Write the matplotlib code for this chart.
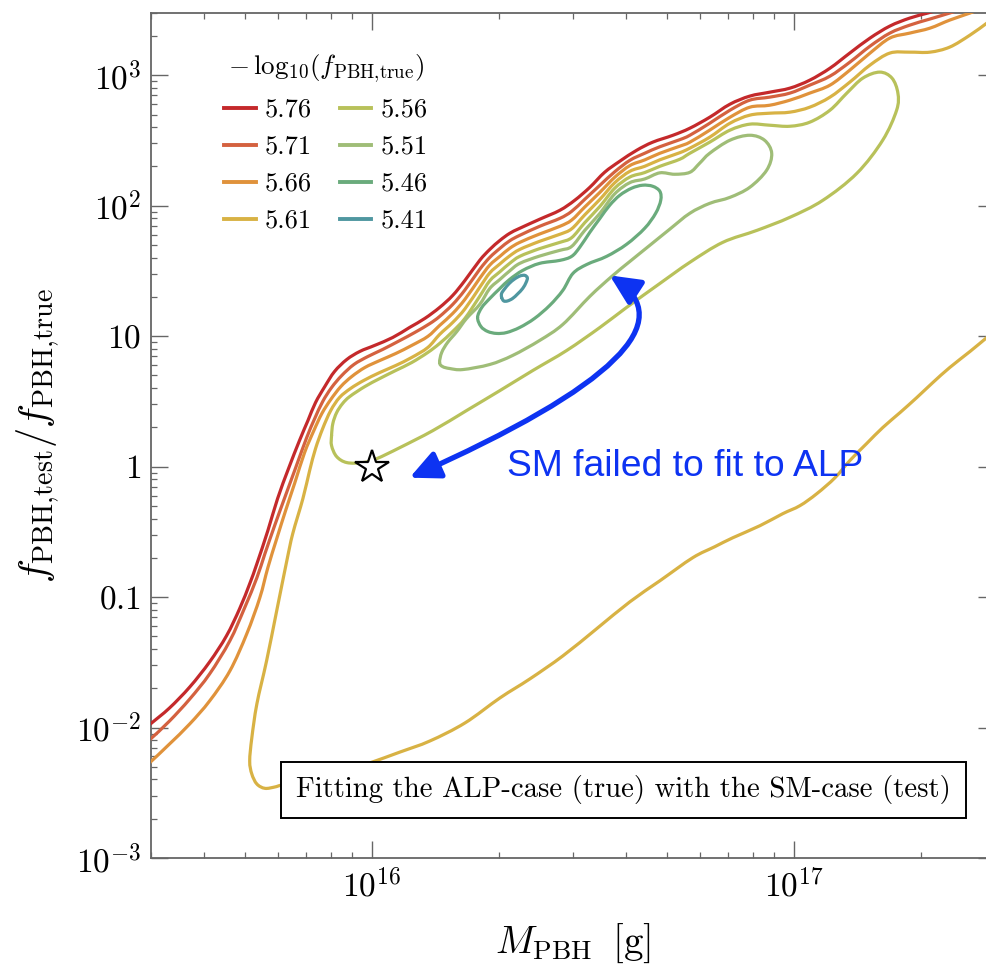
import numpy as np
import matplotlib
matplotlib.use("Agg")
import matplotlib.pyplot as plt
from matplotlib.patches import FancyArrowPatch, Rectangle, PathPatch
from matplotlib.path import Path
from matplotlib.lines import Line2D

plt.rcParams['mathtext.fontset'] = 'cm'
plt.rcParams['font.family'] = ['cmr10', 'DejaVu Serif']
plt.rcParams['axes.unicode_minus'] = False
plt.rcParams['axes.formatter.use_mathtext'] = True

# contour levels of -log10(f_PBH,true) and their colours
levels = [5.76, 5.71, 5.66, 5.61, 5.56, 5.51, 5.46, 5.41]
level_colors = ['#c4292b', '#d4613f', '#e0923b', '#d8b244',
                '#b8c15a', '#9fbd77', '#6aab7c', '#4f97a0']

# iso-lines, points given as (log10 M_PBH [g], log10 f_test/f_true)
iso_576 = [(15.462, -2.011), (15.476, -1.972), (15.521, -1.850), (15.569, -1.689), (15.616, -1.497),
           (15.656, -1.297), (15.687, -1.090), (15.711, -0.898), (15.728, -0.745), (15.754, -0.491),
           (15.777, -0.246), (15.803, -0.015), (15.829, 0.200), (15.849, 0.353), (15.867, 0.491),
           (15.889, 0.614), (15.912, 0.729), (15.941, 0.821), (15.972, 0.883), (16.007, 0.929),
           (16.050, 0.990), (16.090, 1.067), (16.126, 1.136), (16.161, 1.220), (16.192, 1.312),
           (16.221, 1.427), (16.256, 1.581), (16.280, 1.665), (16.304, 1.734), (16.327, 1.788),
           (16.351, 1.827), (16.398, 1.896), (16.446, 1.965), (16.481, 2.041), (16.517, 2.141),
           (16.552, 2.256), (16.588, 2.341), (16.628, 2.425), (16.666, 2.487), (16.714, 2.540),
           (16.754, 2.594), (16.801, 2.678), (16.849, 2.778), (16.896, 2.840), (16.943, 2.870),
           (16.991, 2.901), (17.038, 2.962), (17.086, 3.054), (17.133, 3.170), (17.181, 3.285),
           (17.228, 3.377), (17.275, 3.438), (17.318, 3.477), (17.358, 3.515)]

iso_571 = [(15.462, -2.126), (15.476, -2.088), (15.521, -1.950), (15.569, -1.781), (15.616, -1.589),
           (15.664, -1.335), (15.699, -1.082), (15.728, -0.852), (15.747, -0.668), (15.770, -0.453),
           (15.794, -0.238), (15.820, -0.008), (15.846, 0.222), (15.865, 0.368), (15.884, 0.499),
           (15.905, 0.606), (15.929, 0.698), (15.958, 0.783), (15.991, 0.844), (16.026, 0.898),
           (16.067, 0.967), (16.102, 1.028), (16.138, 1.097), (16.161, 1.151), (16.192, 1.243),
           (16.221, 1.354), (16.256, 1.512), (16.280, 1.604), (16.304, 1.673), (16.327, 1.731),
           (16.351, 1.773), (16.398, 1.842), (16.446, 1.903), (16.474, 1.957), (16.505, 2.049),
           (16.541, 2.157), (16.576, 2.260), (16.612, 2.348), (16.647, 2.402), (16.683, 2.452),
           (16.730, 2.506), (16.754, 2.540), (16.801, 2.632), (16.849, 2.732), (16.896, 2.809),
           (16.943, 2.832), (16.991, 2.863), (17.038, 2.924), (17.086, 2.993), (17.133, 3.100),
           (17.181, 3.223), (17.228, 3.323), (17.275, 3.384), (17.323, 3.431), (17.370, 3.477),
           (17.406, 3.515)]

iso_566 = [(15.462, -2.303), (15.476, -2.264), (15.521, -2.126), (15.569, -1.972), (15.616, -1.796),
           (15.664, -1.566), (15.704, -1.282), (15.735, -1.005), (15.754, -0.775), (15.775, -0.553),
           (15.796, -0.338), (15.818, -0.123), (15.841, 0.107), (15.863, 0.276), (15.882, 0.407),
           (15.903, 0.514), (15.927, 0.614), (15.953, 0.691), (15.984, 0.760), (16.019, 0.813),
           (16.057, 0.867), (16.095, 0.929), (16.133, 0.998), (16.161, 1.082), (16.192, 1.174),
           (16.221, 1.282), (16.256, 1.443), (16.280, 1.545), (16.304, 1.612), (16.327, 1.673),
           (16.351, 1.719), (16.398, 1.783), (16.446, 1.842), (16.474, 1.890), (16.505, 1.990),
           (16.541, 2.103), (16.576, 2.218), (16.612, 2.308), (16.647, 2.351), (16.683, 2.402),
           (16.730, 2.456), (16.754, 2.487), (16.801, 2.579), (16.849, 2.678), (16.896, 2.755),
           (16.943, 2.770), (16.991, 2.809), (17.038, 2.863), (17.086, 2.924), (17.133, 3.039),
           (17.181, 3.170), (17.228, 3.285), (17.275, 3.323), (17.323, 3.361), (17.370, 3.423),
           (17.418, 3.477), (17.453, 3.523)]

iso_561 = [(17.481, 1.051), (17.458, 0.990), (17.418, 0.883), (17.370, 0.760), (17.330, 0.645),
           (17.292, 0.530), (17.252, 0.414), (17.211, 0.299), (17.173, 0.177), (17.133, 0.046),
           (17.098, -0.085), (17.055, -0.207), (17.015, -0.299), (16.974, -0.361), (16.920, -0.453),
           (16.856, -0.545), (16.813, -0.614), (16.761, -0.698), (16.683, -0.875), (16.612, -1.036),
           (16.533, -1.243), (16.453, -1.451), (16.375, -1.627), (16.304, -1.773), (16.221, -1.965),
           (16.138, -2.103), (16.067, -2.188), (15.995, -2.272), (15.936, -2.334), (15.877, -2.387),
           (15.829, -2.418), (15.787, -2.441), (15.770, -2.456), (15.747, -2.466), (15.728, -2.433),
           (15.716, -2.356), (15.711, -2.257), (15.716, -2.080), (15.728, -1.819), (15.751, -1.489),
           (15.775, -1.105), (15.799, -0.721), (15.813, -0.514), (15.837, -0.246), (15.853, -0.031),
           (15.867, 0.138), (15.884, 0.292), (15.903, 0.430), (15.924, 0.530), (15.950, 0.599),
           (15.981, 0.660), (16.019, 0.721), (16.057, 0.775), (16.095, 0.837), (16.133, 0.913),
           (16.161, 1.013), (16.192, 1.105), (16.221, 1.209), (16.256, 1.374), (16.280, 1.485),
           (16.304, 1.554), (16.327, 1.615), (16.351, 1.665), (16.398, 1.727), (16.446, 1.781),
           (16.474, 1.823), (16.505, 1.930), (16.541, 2.049), (16.576, 2.176), (16.612, 2.264),
           (16.647, 2.302), (16.683, 2.352), (16.730, 2.406), (16.754, 2.441), (16.801, 2.525),
           (16.849, 2.632), (16.896, 2.694), (16.943, 2.709), (16.991, 2.717), (17.038, 2.755),
           (17.086, 2.832), (17.133, 2.947), (17.181, 3.078), (17.228, 3.170), (17.275, 3.177),
           (17.323, 3.177), (17.370, 3.216), (17.418, 3.308), (17.458, 3.400), (17.481, 3.454)]

iso_556 = [(15.905, 0.238), (15.908, 0.330), (15.917, 0.414), (15.931, 0.483), (15.948, 0.537),
           (15.984, 0.614), (16.019, 0.675), (16.057, 0.737), (16.095, 0.798), (16.133, 0.875),
           (16.161, 0.944), (16.192, 1.036), (16.221, 1.136), (16.256, 1.305), (16.280, 1.425),
           (16.304, 1.494), (16.327, 1.558), (16.351, 1.612), (16.398, 1.671), (16.446, 1.719),
           (16.474, 1.755), (16.505, 1.870), (16.541, 1.995), (16.576, 2.134), (16.612, 2.220),
           (16.647, 2.254), (16.683, 2.302), (16.730, 2.356), (16.754, 2.402), (16.801, 2.487),
           (16.849, 2.579), (16.896, 2.625), (16.943, 2.617), (16.991, 2.609), (17.038, 2.640),
           (17.086, 2.732), (17.126, 2.863), (17.164, 2.978), (17.204, 3.024), (17.233, 2.978),
           (17.247, 2.863), (17.244, 2.732), (17.211, 2.502), (17.150, 2.249), (17.069, 2.041),
           (16.991, 1.911), (16.913, 1.811), (16.832, 1.719), (16.754, 1.566), (16.683, 1.404),
           (16.604, 1.220), (16.541, 1.067), (16.462, 0.890), (16.382, 0.737), (16.304, 0.583),
           (16.225, 0.430), (16.145, 0.276), (16.067, 0.146), (16.012, 0.061), (15.979, 0.031),
           (15.941, 0.031), (15.917, 0.077), (15.905, 0.161), (15.905, 0.238)]

iso_551 = [(16.161, 0.798), (16.166, 0.875), (16.180, 0.952), (16.202, 1.036), (16.225, 1.136),
           (16.256, 1.243), (16.280, 1.366), (16.304, 1.435), (16.327, 1.500), (16.351, 1.558),
           (16.398, 1.614), (16.446, 1.658), (16.474, 1.688), (16.505, 1.811), (16.541, 1.942),
           (16.576, 2.091), (16.612, 2.177), (16.647, 2.205), (16.683, 2.252), (16.718, 2.241),
           (16.754, 2.256), (16.777, 2.325), (16.801, 2.402), (16.849, 2.502), (16.896, 2.540),
           (16.931, 2.502), (16.948, 2.402), (16.936, 2.272), (16.896, 2.141), (16.849, 2.064),
           (16.801, 2.018), (16.754, 1.942), (16.706, 1.819), (16.659, 1.696), (16.612, 1.573),
           (16.569, 1.458), (16.517, 1.305), (16.453, 1.090), (16.398, 0.967), (16.334, 0.852),
           (16.280, 0.783), (16.216, 0.744), (16.185, 0.752), (16.168, 0.767), (16.161, 0.798)]

iso_546 = [(16.251, 1.144), (16.259, 1.074), (16.275, 1.036), (16.296, 1.021), (16.320, 1.028),
           (16.351, 1.067), (16.386, 1.136), (16.422, 1.236), (16.453, 1.351), (16.477, 1.481),
           (16.510, 1.550), (16.557, 1.612), (16.604, 1.704), (16.647, 1.827), (16.673, 1.942),
           (16.685, 2.041), (16.683, 2.110), (16.666, 2.149), (16.642, 2.157), (16.616, 2.134),
           (16.588, 2.080), (16.564, 2.003), (16.541, 1.903), (16.517, 1.796), (16.493, 1.681),
           (16.474, 1.612), (16.446, 1.581), (16.398, 1.558), (16.358, 1.504), (16.327, 1.435),
           (16.304, 1.366), (16.280, 1.289), (16.261, 1.220), (16.251, 1.144)]

iso_541 = [(16.308, 1.297), (16.313, 1.270), (16.322, 1.270), (16.334, 1.289), (16.346, 1.324),
           (16.358, 1.366), (16.366, 1.412), (16.369, 1.447), (16.363, 1.466), (16.352, 1.462),
           (16.339, 1.439), (16.326, 1.404), (16.315, 1.362), (16.308, 1.328), (16.308, 1.297)]

iso_lines = [iso_576, iso_571, iso_566, iso_561, iso_556, iso_551, iso_546, iso_541]

# true benchmark point
star_M = 1.0e16
star_f = 1.0

# tick values and labels
y_ticks = [1e-3, 1e-2, 1e-1, 1, 10, 1e2, 1e3]
y_ticklabels = [r'$10^{-3}$', r'$10^{-2}$', r'$0.1$', r'$1$', r'$10$', r'$10^{2}$', r'$10^{3}$']
x_ticks = [1e16, 1e17]
x_ticklabels = [r'$10^{16}$', r'$10^{17}$']

blue = '#0d33f2'


def smooth_curve(pts):
    """Cubic Bezier path through the traced points (Catmull-Rom tangents in log space)."""
    p = np.array(pts, dtype=float)
    closed = np.allclose(p[0], p[-1])
    if closed:
        p = p[:-1]
        t = (np.roll(p, -1, axis=0) - np.roll(p, 1, axis=0)) / 2.0
        p = np.vstack([p, p[:1]])
        t = np.vstack([t, t[:1]])
    else:
        t = np.empty_like(p)
        t[1:-1] = (p[2:] - p[:-2]) / 2.0
        t[0] = p[1] - p[0]
        t[-1] = p[-1] - p[-2]
    verts = [p[0]]
    codes = [Path.MOVETO]
    for i in range(len(p) - 1):
        verts += [p[i] + t[i] / 3.0, p[i + 1] - t[i + 1] / 3.0, p[i + 1]]
        codes += [Path.CURVE4] * 3
    return Path(10 ** np.array(verts), codes)


fig = plt.figure(figsize=(9.87, 9.68), dpi=100)
ax = fig.add_axes([151 / 987, 110 / 968, 844 / 987, 845 / 968])
ax.set_xscale('log')
ax.set_yscale('log')
ax.set_xlim(3e15, 3e17)
ax.set_ylim(1e-3, 3e3)

handles = []
for lev, col, pts in zip(levels, level_colors, iso_lines):
    ax.add_patch(PathPatch(smooth_curve(pts), fill=False, ec=col, lw=2.3,
                           joinstyle='round', capstyle='round', zorder=3))
    handles.append(Line2D([], [], color=col, lw=2.8))

# benchmark star
ax.plot([star_M], [star_f], marker='*', ms=25, mfc='white', mec='black', mew=1.6,
        ls='none', zorder=8)

# curved double-headed arrow
arrow = FancyArrowPatch(posA=(10 ** 16.090, 10 ** -0.085), posB=(10 ** 16.564, 10 ** 1.466),
                        arrowstyle='<|-|>,head_length=18,head_width=8.5',
                        connectionstyle='angle3,angleA=24,angleB=-33',
                        mutation_scale=1, color=blue, lw=3.8, shrinkA=0, shrinkB=0, zorder=7)
ax.add_patch(arrow)
ax.text(10 ** 16.320, 10 ** -0.0746, 'SM failed to fit to ALP', color=blue, fontsize=26.8,
        family=['Liberation Sans', 'DejaVu Sans'], ha='left', va='baseline', zorder=7)

# framed caption
ax.add_patch(Rectangle((0.154, 0.0473), 0.8116, 0.0663, transform=ax.transAxes,
                       fc='white', ec='black', lw=1.4, zorder=5))
ax.text(0.5598, 0.0805, 'Fitting the ALP-case (true) with the SM-case (test)',
        transform=ax.transAxes, ha='center', va='center', fontsize=20.7, zorder=6)

# legend
leg = ax.legend(handles, [f'{v:.2f}' for v in levels], ncol=2,
                title=r'$-\,\mathrm{log}_{10}(f_{\rm PBH{,}true})$', frameon=False,
                fontsize=19, title_fontsize=19.5, loc='upper left',
                bbox_to_anchor=(0.0865, 0.953), borderaxespad=0, borderpad=0,
                handlelength=1.2, handletextpad=0.35, columnspacing=1.05, labelspacing=0.5)

# axes styling
ax.set_yticks(y_ticks)
ax.set_yticklabels(y_ticklabels)
ax.set_xticks(x_ticks)
ax.set_xticklabels(x_ticklabels)
ax.yaxis.set_minor_locator(matplotlib.ticker.LogLocator(base=10, subs=np.arange(2, 10)))
ax.xaxis.set_minor_locator(matplotlib.ticker.LogLocator(base=10, subs=np.arange(2, 10)))
ax.yaxis.set_minor_formatter(matplotlib.ticker.NullFormatter())
ax.xaxis.set_minor_formatter(matplotlib.ticker.NullFormatter())
ax.tick_params(which='both', direction='in', top=True, right=True, color='#666666',
               labelsize=24, labelcolor='black')
ax.tick_params(which='major', length=12, width=1.0, pad=7)
ax.tick_params(which='minor', length=4.5, width=0.9)
for sp in ax.spines.values():
    sp.set_color('#666666')
    sp.set_linewidth(1.3)

ax.set_xlabel(r'$M_{\rm PBH}\;\;[\rm g]$', fontsize=28, labelpad=14)
ax.set_ylabel(r'$f_{\rm PBH{,}test}/f_{\rm PBH{,}true}$', fontsize=29, labelpad=10)

fig.savefig('out.png', dpi=100)
